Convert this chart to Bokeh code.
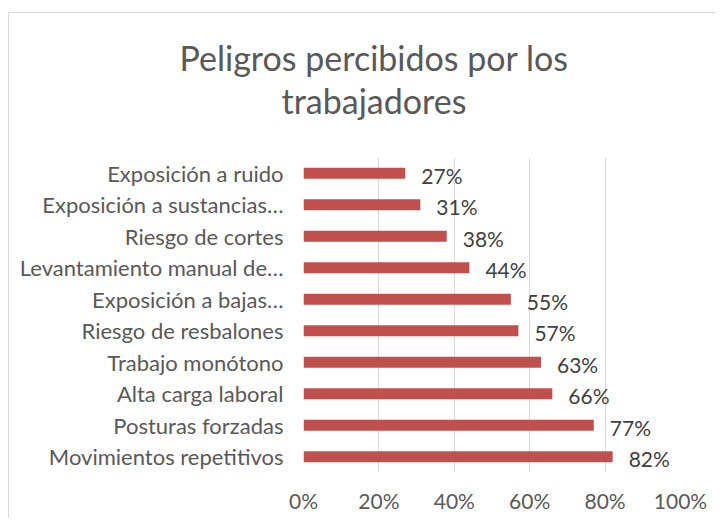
from bokeh.plotting import figure
from bokeh.models import NumeralTickFormatter, FixedTicker, ColumnDataSource, Title
from bokeh.core.properties import value
from bokeh.embed import file_html
from bokeh.resources import INLINE

# data, listed top to bottom as in the chart
title_lines = ["Peligros percibidos por los", "trabajadores"]
categories = [
    "Exposición a ruido",
    "Exposición a sustancias…",
    "Riesgo de cortes",
    "Levantamiento manual de…",
    "Exposición a bajas…",
    "Riesgo de resbalones",
    "Trabajo monótono",
    "Alta carga laboral",
    "Posturas forzadas",
    "Movimientos repetitivos",
]
values = [0.27, 0.31, 0.38, 0.44, 0.55, 0.57, 0.63, 0.66, 0.77, 0.82]
labels = ["27%", "31%", "38%", "44%", "55%", "57%", "63%", "66%", "77%", "82%"]
x_ticks = [0, 0.2, 0.4, 0.6, 0.8, 1.0]

FONT = "Lato"
GRAY = "#595959"

factors = list(reversed(categories))
src = ColumnDataSource(dict(cat=categories, val=values, lab=labels))

p = figure(
    y_range=factors, x_range=(0, 1.0),
    width=707, height=506,
    output_backend="svg", toolbar_location=None,
    min_border_left=294, min_border_right=36,
    min_border_top=144, min_border_bottom=47,
)
p.styles = {"border-left": "1px solid #d9d9d9", "border-top": "1px solid #d9d9d9",
            "margin-top": "12px", "margin-left": "8px"}
p.title = None

# spacer between the plot frame and the two title lines
p.add_layout(Title(text=" ", text_font=FONT, text_font_size="29px", standoff=0), "above")
# title lines, left-aligned with offsets so that each line is centred on the chart area
for line, off in zip(reversed(title_lines), [-22, -124]):
    p.add_layout(Title(text=line, align="left", offset=off, standoff=0,
                       text_font=FONT, text_font_style="normal",
                       text_font_size="34px", text_color=GRAY), "above")

p.hbar(y="cat", right="val", left=0, height=0.35, source=src,
       fill_color="#C0504D", line_color=None)
p.text(x="val", y="cat", text="lab", source=src, x_offset=16, y_offset=2,
       text_font=value(FONT), text_font_size="21px", text_color="#404040",
       text_baseline="middle", text_align="left")

p.outline_line_color = None
p.xgrid.grid_line_color = "#d9d9d9"
p.ygrid.grid_line_color = None
p.xaxis.ticker = FixedTicker(ticks=x_ticks)
p.xaxis.formatter = NumeralTickFormatter(format="0%")
for ax in (p.xaxis, p.yaxis):
    ax.axis_line_color = None
    ax.major_tick_line_color = None
    ax.minor_tick_line_color = None
    ax.major_tick_out = 0
    ax.major_tick_in = 0
    ax.major_label_text_font = FONT
    ax.major_label_text_font_size = "21px"
    ax.major_label_text_color = GRAY
p.yaxis.major_label_text_font_size = "22px"
p.xaxis.major_label_standoff = 15
p.yaxis.major_label_standoff = 20

open("out.html", "w").write(file_html(p, INLINE))
